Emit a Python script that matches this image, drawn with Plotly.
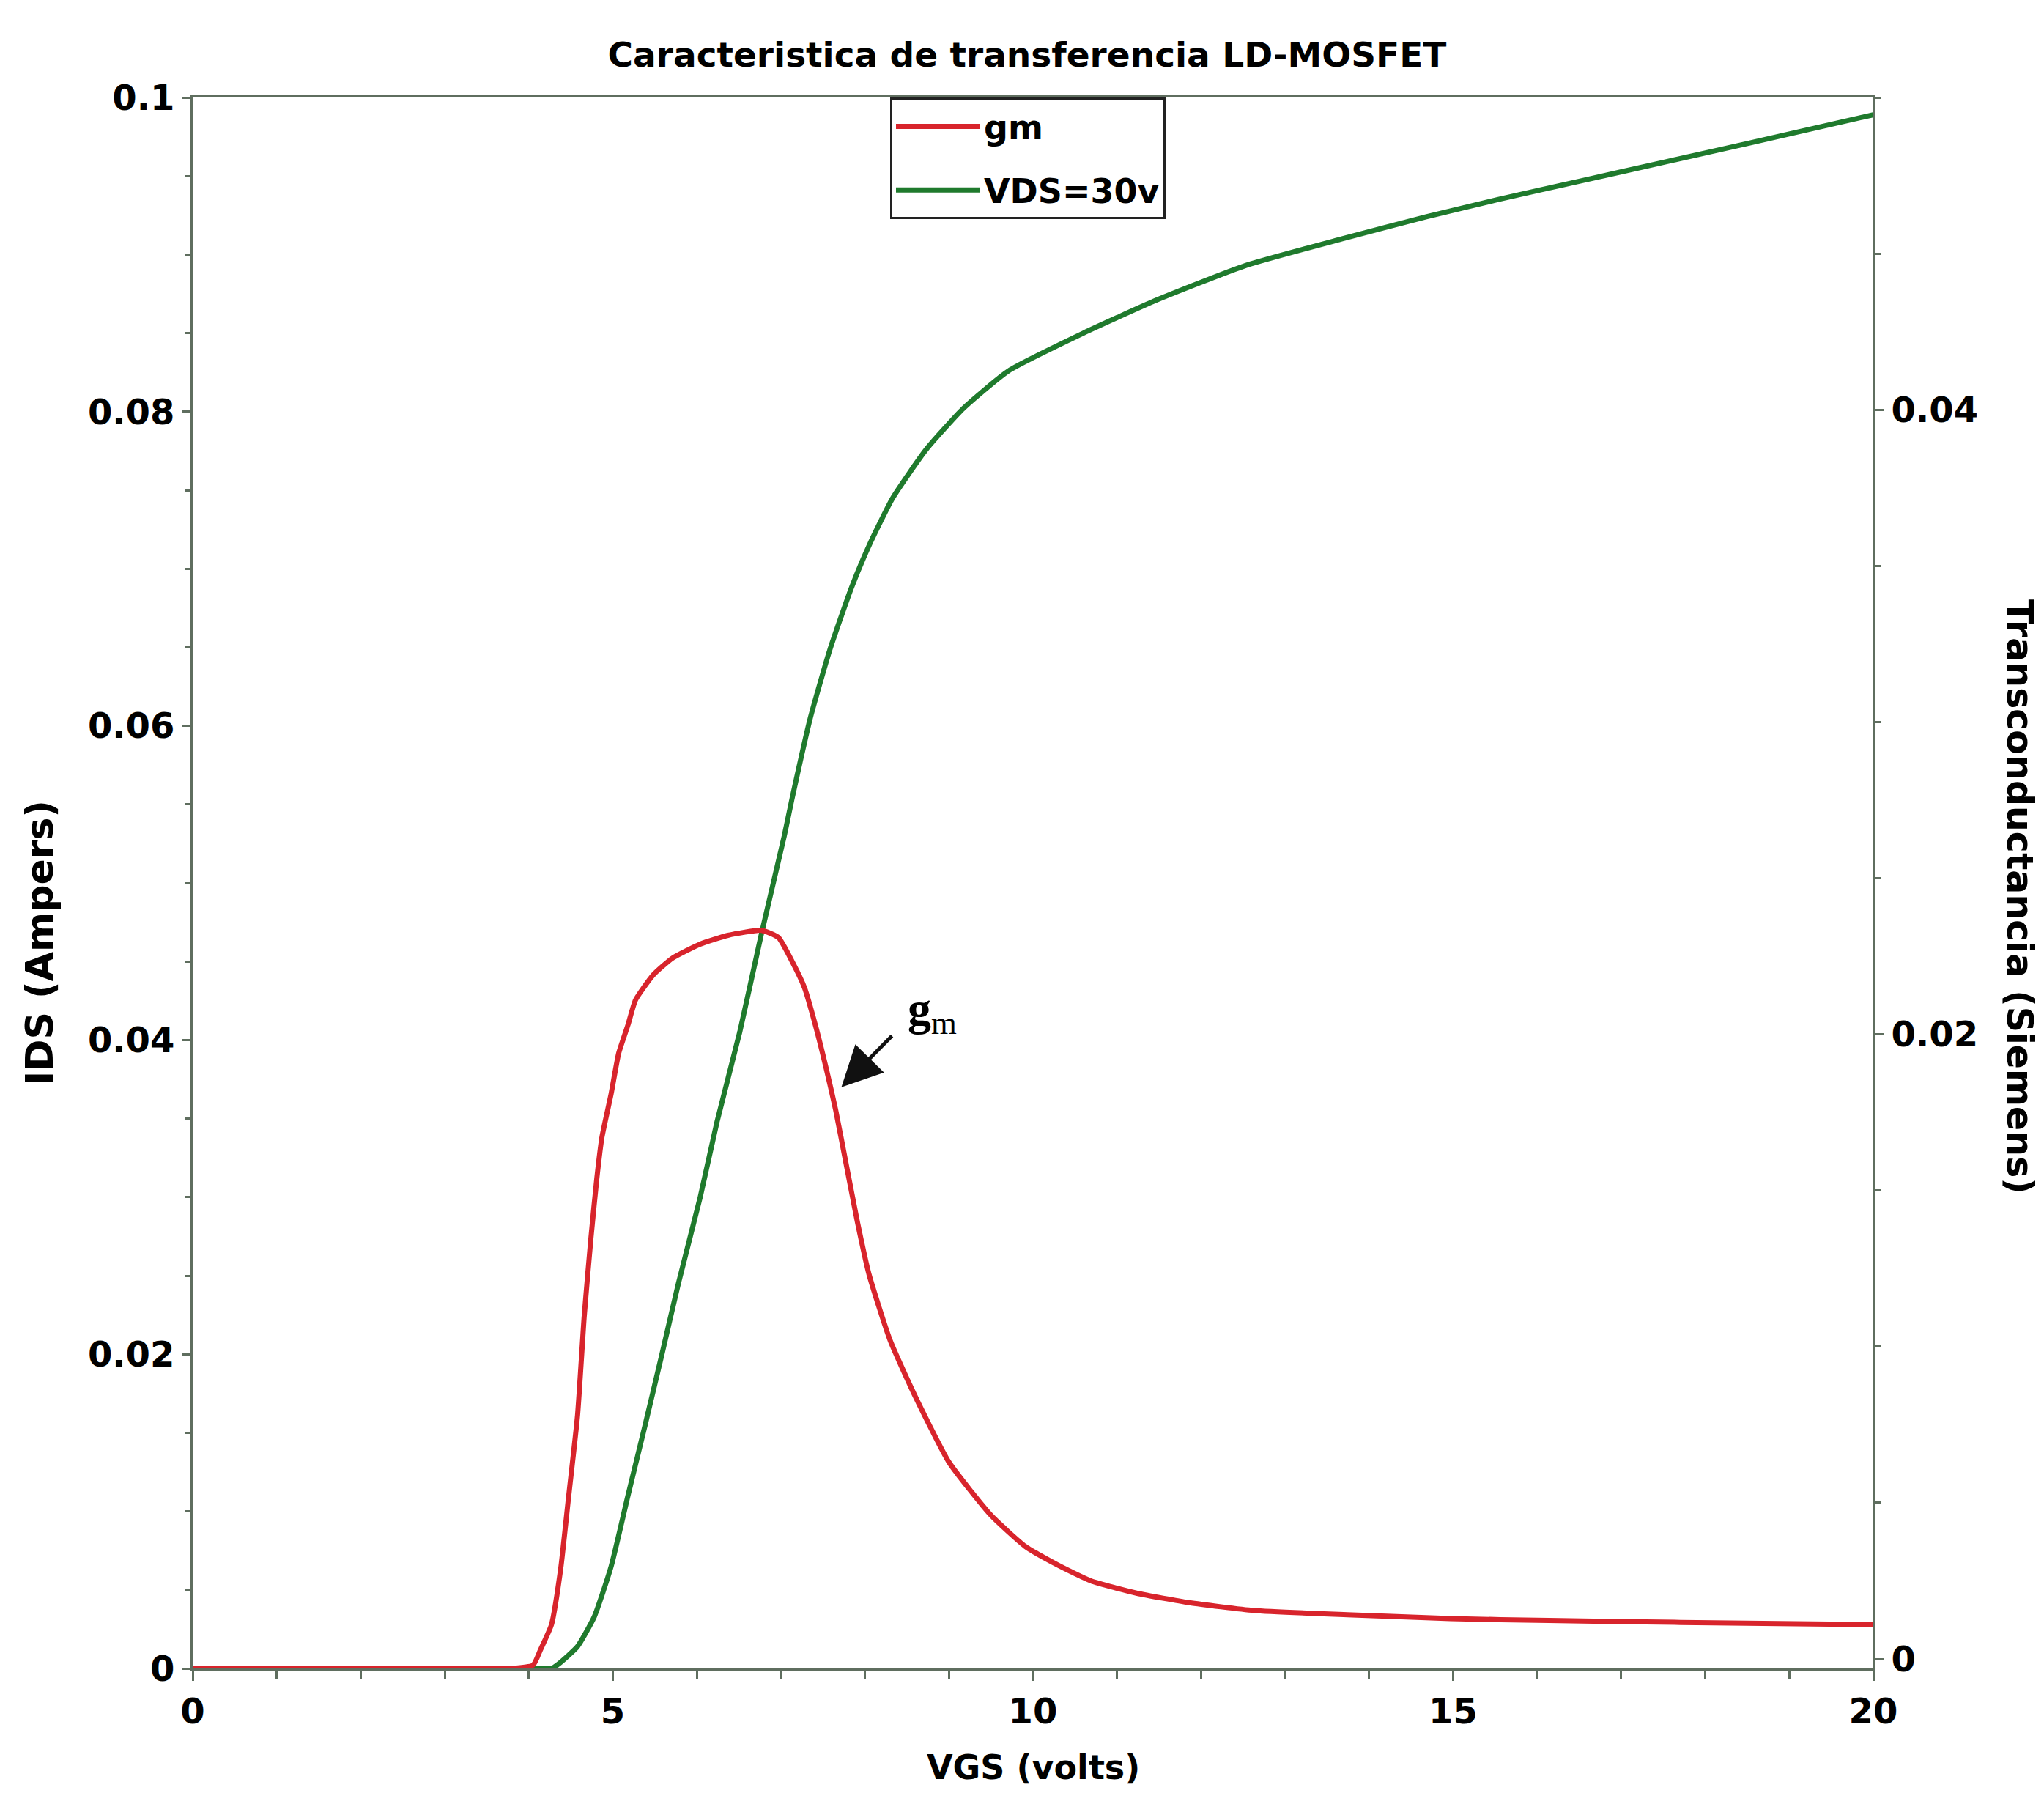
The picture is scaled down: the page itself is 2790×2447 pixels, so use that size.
import plotly.graph_objects as go

# ---- data ----
vgs_gm = [0, 1, 2, 3, 3.8, 4.05, 4.14, 4.27, 4.38, 4.47, 4.58, 4.66, 4.74, 4.81, 4.87,
          4.98, 5.07, 5.18, 5.27, 5.48, 5.71, 6.04, 6.37, 6.77, 6.97, 7.14, 7.28, 7.41,
          7.54, 7.65, 7.78, 7.91, 8.05, 8.3, 8.6, 9.0, 9.5, 9.91, 10.3, 10.69, 11.24,
          11.86, 12.63, 13.8, 14.97, 16.14, 17.7, 20]
gm = [-0.0003, -0.0003, -0.0003, -0.0003, -0.0003, -0.0002, 0.0003, 0.0011, 0.0029, 0.0051,
      0.0078, 0.0110, 0.0135, 0.0154, 0.0167, 0.0181, 0.0194, 0.0203, 0.0211, 0.0219,
      0.02244, 0.02289, 0.02317, 0.02333, 0.0231, 0.0223, 0.0215, 0.0203, 0.0189, 0.0176,
      0.0158, 0.0140, 0.0123, 0.0102, 0.0084, 0.0063, 0.0046, 0.0036, 0.0030, 0.0025,
      0.0021, 0.0018, 0.00155, 0.00141, 0.00129, 0.00123, 0.00117, 0.00110]

vgs_ids = [0, 1, 2, 3, 4, 4.27, 4.38, 4.58, 4.78, 4.98, 5.18, 5.38, 5.58, 5.78, 6.04,
           6.24, 6.51, 6.77, 7.04, 7.13, 7.35, 7.58, 7.84, 8.06, 8.33, 8.73, 9.17, 9.71,
           10.6, 11.47, 12.53, 13.68, 14.68, 15.53, 16.53, 17.53, 18.53, 20]
ids = [0, 0, 0, 0, 0, 0, 0.0004, 0.0014, 0.0033, 0.0065, 0.0110, 0.0154, 0.0199, 0.0245,
       0.0300, 0.0348, 0.0405, 0.0468, 0.0530, 0.0553, 0.0605, 0.0648, 0.0688, 0.0716,
       0.0745, 0.0776, 0.0802, 0.0826, 0.0850, 0.0871, 0.0893, 0.0910, 0.0924, 0.0935,
       0.0947, 0.0959, 0.0971, 0.0989]

x_ticks = [0, 5, 10, 15, 20]
left_ticks = [0, 0.02, 0.04, 0.06, 0.08, 0.1]
right_ticks = [0, 0.02, 0.04]

title_text = "Caracteristica de transferencia LD-MOSFET"
x_title = "VGS (volts)"
y_title = "IDS (Ampers)"
y2_title = "Transconductancia (Siemens)"

FONT = "DejaVu Sans"
AXC = "#5f6e5f"

fig = go.Figure()
fig.add_trace(go.Scatter(x=vgs_gm, y=gm, name="gm", yaxis="y2", mode="lines",
                         line=dict(color="#d8242c", width=7, shape="spline", smoothing=0.5),
                         legendgroup="a"))
fig.add_trace(go.Scatter(x=vgs_ids, y=ids, name="VDS=30v", yaxis="y", mode="lines",
                         line=dict(color="#1f7a2d", width=7, shape="spline", smoothing=0.5),
                         legendgroup="b"))

tickf = dict(family=FONT, size=48, color="black", weight="bold")

fig.update_layout(
    width=2790, height=2447,
    margin=dict(l=263, r=233, t=133, b=170),
    paper_bgcolor="white", plot_bgcolor="white",
    title=dict(text=title_text, x=0.5025, xanchor="center", y=1 - 75 / 2447,
               yanchor="middle", yref="container",
               font=dict(family=FONT, size=47, color="black", weight="bold")),
    showlegend=True,
    legend=dict(x=(1215 - 263) / 2294, y=1.0, xanchor="left", yanchor="top",
                bordercolor="#222", borderwidth=3, bgcolor="white",
                font=dict(family=FONT, size=46, color="black", weight="bold"),
                itemwidth=115, tracegroupgap=24, traceorder="grouped"),
    xaxis=dict(range=[0, 20], tickvals=x_ticks, ticks="outside", ticklen=14, tickwidth=3,
               tickcolor=AXC, showline=True, linecolor=AXC, linewidth=3, mirror=True,
               showgrid=False, zeroline=False, tickfont=tickf,
               minor=dict(dtick=1, ticks="outside", ticklen=12, tickwidth=3, tickcolor=AXC)),
    yaxis=dict(range=[0, 0.1], tickvals=left_ticks, ticks="outside", ticklen=12, tickwidth=3,
               tickcolor=AXC, showline=True, linecolor=AXC, linewidth=3,
               showgrid=False, zeroline=False, tickfont=tickf,
               minor=dict(dtick=0.005, ticks="outside", ticklen=8, tickwidth=3, tickcolor=AXC)),
    yaxis2=dict(range=[-0.000305, 0.05], overlaying="y", side="right", tickvals=right_ticks,
                ticks="outside", ticklen=12, tickwidth=3, tickcolor=AXC,
                showline=True, linecolor=AXC, linewidth=3,
                showgrid=False, zeroline=False, tickfont=tickf,
                minor=dict(dtick=0.005, ticks="outside", ticklen=8, tickwidth=3, tickcolor=AXC)),
)

# axis titles
fig.add_annotation(text=x_title, xref="paper", yref="paper", x=0.5004, y=(2277 - 2412) / 2144,
                   xanchor="center", yanchor="middle", showarrow=False,
                   font=dict(family=FONT, size=46, color="black", weight="bold"))
fig.add_annotation(text=y_title, xref="paper", yref="paper", x=(54 - 263) / 2294,
                   y=(2277 - 1286) / 2144, textangle=-90, xanchor="center", yanchor="middle",
                   showarrow=False, font=dict(family=FONT, size=52, color="black", weight="bold"))
fig.add_annotation(text=y2_title, xref="paper", yref="paper", x=(2757 - 263) / 2294,
                   y=(2277 - 1224) / 2144, textangle=90, xanchor="center", yanchor="middle",
                   showarrow=False, font=dict(family=FONT, size=49, color="black", weight="bold"))

# gm label with arrow
fig.add_annotation(x=7.72, y=0.0370, xref="x", yref="y", text=" ", showarrow=True,
                   ax=72, ay=-73, arrowhead=2, arrowsize=2.2, arrowwidth=5, arrowcolor="#111")
fig.add_annotation(x=8.49, y=0.0418, xref="x", yref="y", text="<b>g</b><sub>m</sub>",
                   showarrow=False, xanchor="left", yanchor="middle",
                   font=dict(family="Liberation Serif", size=64, color="black"))

fig.write_html("out.html")
